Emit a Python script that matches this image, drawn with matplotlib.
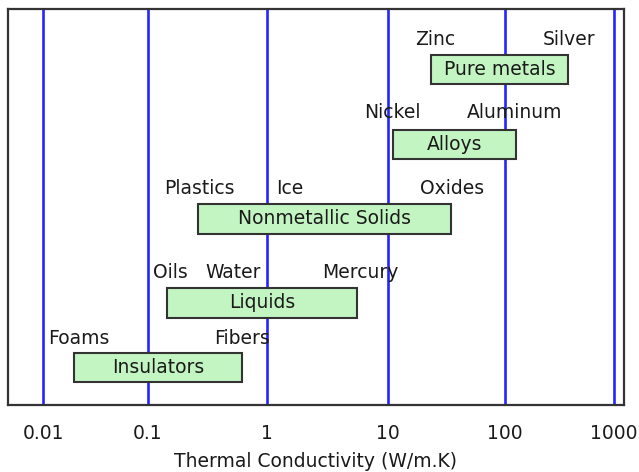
import numpy as np
import matplotlib
matplotlib.use("Agg")
import matplotlib.pyplot as plt
from matplotlib.patches import Rectangle

# ---- data ----
categories = ["Pure metals", "Alloys", "Nonmetallic Solids", "Liquids", "Insulators"]
range_low = [23.4, 11.1, 0.266, 0.146, 0.0197]     # W/m.K
range_high = [378, 126, 34.6, 5.58, 0.622]

example_names = [["Zinc", "Silver"], ["Nickel", "Aluminum"],
                 ["Plastics", "Ice", "Oxides"], ["Oils", "Water", "Mercury"],
                 ["Foams", "Fibers"]]
example_values = [[25.3, 386], [10.9, 123], [0.271, 1.56, 35.3],
                  [0.155, 0.523, 5.91], [0.0219, 0.622]]

tick_values = [0.01, 0.1, 1, 10, 100, 1000]
tick_labels = ["0.01", "0.1", "1", "10", "100", "1000"]
xlabel = "Thermal Conductivity (W/m.K)"

# ---- layout (style) ----
W, H = 639, 472
row_y = [69.5, 144.5, 219, 303, 367.5]     # vertical centres of rows (px-like units)
label_dy = [30, 31.5, 30.5, 30.5, 28.5]
box_h = 29.5

# slightly irregular decade spacing of the original drawing
dec_knots = np.array([-3, -2, -1, 0, 1, 2, 3, 4], dtype=float)
pix_knots = np.array([-60.5, 43.5, 147.5, 266.5, 387.7, 505, 614, 723])

def fwd(x):
    x = np.asarray(x, dtype=float)
    with np.errstate(divide="ignore", invalid="ignore"):
        lx = np.log10(np.where(x > 0, x, 1e-300))
    return np.interp(lx, dec_knots, pix_knots)

def inv(p):
    return 10 ** np.interp(np.asarray(p, dtype=float), pix_knots, dec_knots)

fig = plt.figure(figsize=(W / 100, H / 100), dpi=100)
ax = fig.add_axes([8 / W, (H - 405) / H, (624 - 8) / W, (405 - 9) / H])
ax.set_xscale("function", functions=(fwd, inv))
ax.set_xlim(inv(8), inv(624))
ax.set_ylim(405, 9)

for v in tick_values:
    ax.axvline(v, color="#2424ff", lw=1.9, zorder=1)

font = dict(family="DejaVu Sans", color="#1a1a1a")
fs = 13.5

for i, cat in enumerate(categories):
    y = row_y[i]
    ax.add_patch(Rectangle((range_low[i], y - box_h / 2), range_high[i] - range_low[i], box_h,
                           facecolor="#c3f5c3", edgecolor="#333333", lw=1.5, zorder=2))
    xc = inv((fwd(range_low[i]) + fwd(range_high[i])) / 2)
    ax.text(xc, y, cat, ha="center", va="center", fontsize=fs, zorder=3, **font)
    for name, val in zip(example_names[i], example_values[i]):
        ax.text(val, y - label_dy[i], name, ha="center", va="center", fontsize=fs, zorder=3, **font)

ax.set_xticks(tick_values)
ax.set_xticklabels(tick_labels, fontsize=fs, **font)
ax.xaxis.set_minor_locator(matplotlib.ticker.NullLocator())
ax.tick_params(axis="x", length=0, pad=14)
ax.set_yticks([])
ax.set_xlabel(xlabel, fontsize=fs, labelpad=6, **font)
for s in ax.spines.values():
    s.set_color("#333333")
    s.set_linewidth(1.6)

fig.savefig("out.png", dpi=100)
